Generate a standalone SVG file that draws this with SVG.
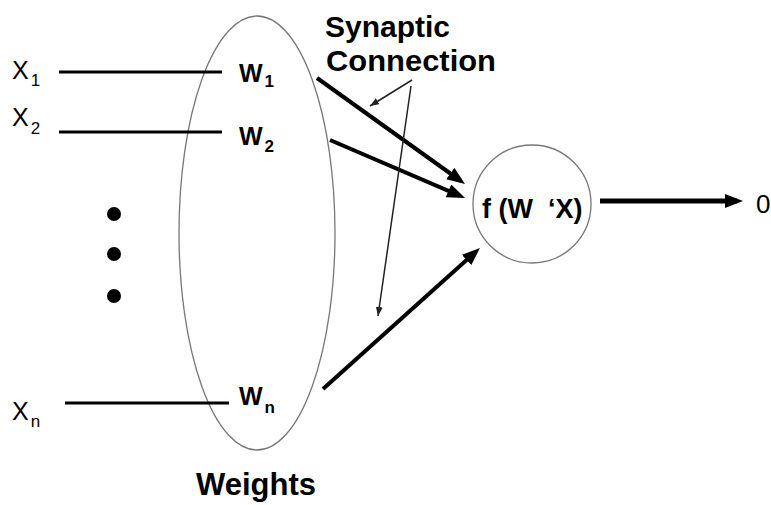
<svg xmlns="http://www.w3.org/2000/svg" width="771" height="505" viewBox="0 0 771 505">
<defs>
<marker id="ah" markerUnits="userSpaceOnUse" markerWidth="20" markerHeight="16" refX="12" refY="7" orient="auto">
<path d="M0,0 L18,7 L0,14 z" fill="#000"/>
</marker>
<marker id="ahs" markerUnits="userSpaceOnUse" markerWidth="12" markerHeight="10" refX="9" refY="3.5" orient="auto">
<path d="M0,0 L9,3.5 L0,7 z" fill="#222"/>
</marker>
</defs>
<style>
text{font-family:"Liberation Sans",Arial,sans-serif;fill:#000}
.x{font-size:25px}
.xs{font-size:17px}
.w{font-size:25px;font-weight:bold}
.ws{font-size:17px}
.b{font-size:31px;font-weight:bold}
.s{font-size:30px;font-weight:bold}
.in{stroke:#000;stroke-width:3;fill:none}
.thick{stroke:#000;stroke-width:4;fill:none;marker-end:url(#ah)}
.thin{stroke:#222;stroke-width:1.5;fill:none;marker-end:url(#ahs)}
.outline{stroke:#777;stroke-width:1.3;fill:none}
</style>
<rect width="771" height="505" fill="#fff"/>
<g id="inputs">
<text class="x" x="12" y="79">X<tspan class="xs" dx="2" dy="7">1</tspan></text>
<text class="x" x="12" y="126">X<tspan class="xs" dx="2" dy="8">2</tspan></text>
<text class="x" x="12" y="420">X<tspan class="xs" dx="2" dy="7">n</tspan></text>
<circle cx="114" cy="214" r="7"/>
<circle cx="114" cy="254" r="7"/>
<circle cx="114" cy="296" r="7"/>
</g>
<g id="weights">
<ellipse class="outline" cx="257" cy="233" rx="78" ry="217"/>
<text class="w" x="239" y="82">W<tspan class="ws" dx="2" dy="5">1</tspan></text>
<text class="w" x="239" y="145">W<tspan class="ws" dx="2" dy="7">2</tspan></text>
<text class="w" x="239" y="405">W<tspan class="ws" dx="2" dy="8">n</tspan></text>
<text class="b" x="196" y="495">Weights</text>
</g>
<g id="neuron">
<circle class="outline" cx="532" cy="204" r="59"/>
<text x="482" y="218" style="font-size:27px;font-weight:bold;white-space:pre">f (W  ‘X)</text>
</g>
<g id="output">
<text x="756" y="213" style="font-size:26px">0</text>
</g>
<g id="label">
<text class="s" x="325" y="37">Synaptic</text>
<text class="s" x="326" y="71" textLength="170" lengthAdjust="spacingAndGlyphs">Connection</text>
</g>
<g id="connectors">
<line class="in" x1="59" y1="72" x2="222" y2="72"/>
<line class="in" x1="59" y1="132" x2="222" y2="132"/>
<line class="in" x1="65" y1="403" x2="229" y2="403"/>
<line class="thick" x1="317" y1="78" x2="460.1" y2="180.5"/>
<line class="thick" x1="330" y1="140" x2="459.5" y2="195.6"/>
<line class="thick" x1="323" y1="389" x2="475.5" y2="252"/>
<line x1="600" y1="201" x2="737" y2="201" style="stroke:#000;stroke-width:5;marker-end:url(#ah)"/>
<line class="thin" x1="412" y1="80" x2="370" y2="106"/>
<line class="thin" x1="411" y1="86" x2="378" y2="316"/>
</g>
</svg>
